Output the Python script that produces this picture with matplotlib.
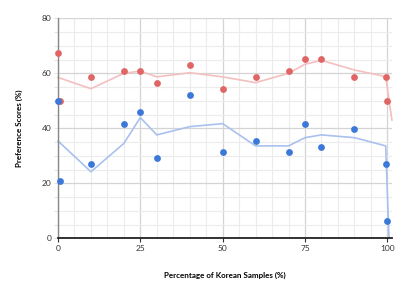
"""Preference scores vs. share of Korean samples, with trend lines."""

import matplotlib
matplotlib.use("Agg")
import matplotlib.pyplot as plt
from matplotlib.ticker import MultipleLocator

# Scatter points (x = % Korean samples, y = preference score)
red_x = [0, 0.5, 10, 20, 25, 30, 40, 50, 60, 70, 75, 80, 90, 99.5, 100]
red_y = [67.4, 50.0, 58.7, 60.8, 60.8, 56.5, 63.1, 54.4, 58.7, 60.8, 65.2, 65.2, 58.7, 58.7, 50.0]

blue_x = [0, 0.5, 10, 20, 25, 30, 40, 50, 60, 70, 75, 80, 90, 99.5, 100]
blue_y = [50.0, 20.8, 27.0, 41.6, 45.8, 29.2, 52.1, 31.3, 35.5, 31.3, 41.7, 33.3, 39.7, 27.1, 6.3]

# Trend lines
red_line_x = [0, 10, 20, 25, 30, 40, 50, 60, 70, 75, 80, 90, 99.5, 101.4]
red_line_y = [58.5, 54.4, 60.0, 60.8, 58.7, 60.2, 58.7, 56.6, 60.0, 63.3, 64.7, 61.2, 58.8, 43.0]

blue_line_x = [0, 10, 20, 25, 30, 40, 50, 60, 70, 75, 80, 90, 99.5, 100.5]
blue_line_y = [35.4, 24.2, 34.5, 43.9, 37.6, 40.6, 41.7, 33.6, 33.6, 36.6, 37.6, 36.6, 33.6, 0.0]

x_ticks = [0, 25, 50, 75, 100]
y_ticks = [0, 20, 40, 60, 80]

RED = "#e06666"
BLUE = "#3c78d8"

fig = plt.figure(figsize=(4.07, 2.89), dpi=100)
ax = fig.add_axes((0.1425, 0.1754, 0.8205, 0.7613))

ax.plot(red_line_x, red_line_y, color="#f4bfbf", lw=1.2, zorder=2, clip_on=False)
ax.plot(blue_line_x, blue_line_y, color="#a9c1ee", lw=1.2, zorder=2, clip_on=False)
ax.scatter(red_x, red_y, s=24, color=RED, zorder=3, clip_on=False, linewidths=0)
ax.scatter(blue_x, blue_y, s=24, color=BLUE, zorder=3, clip_on=False, linewidths=0)

ax.set_xlim(0, 101.4)
ax.set_ylim(0, 80)
ax.set_xticks(x_ticks)
ax.set_yticks(y_ticks)
ax.xaxis.set_minor_locator(MultipleLocator(5))
ax.yaxis.set_minor_locator(MultipleLocator(5))

ax.grid(which="major", color="#d4d4d4", lw=0.9, zorder=0)
ax.grid(which="minor", color="#ececec", lw=0.8, zorder=0)
ax.set_axisbelow(True)

for side in ("top", "right"):
    ax.spines[side].set_visible(False)
ax.spines["left"].set_color("#888888")
ax.spines["left"].set_linewidth(1.0)
ax.spines["bottom"].set_color("#222222")
ax.spines["bottom"].set_linewidth(1.3)

ax.tick_params(axis="x", which="major", length=3, width=0.8, color="#333333",
               labelsize=6, labelcolor="#333333", pad=2)
ax.tick_params(axis="x", which="minor", length=0)
ax.tick_params(axis="y", which="both", length=3, width=0.6, color="#dddddd",
               labelsize=6, labelcolor="#333333", pad=1.5)
for lab in ax.get_xticklabels() + ax.get_yticklabels():
    lab.set_family("Lato")

ax.set_xlabel("Percentage of Korean Samples (%)", fontsize=5.8, fontweight="bold",
              family="Lato", labelpad=14)
ax.set_ylabel("Preference Scores (%)", fontsize=5.8, fontweight="bold",
              family="Lato", labelpad=14)

fig.savefig("out.png", dpi=100)
